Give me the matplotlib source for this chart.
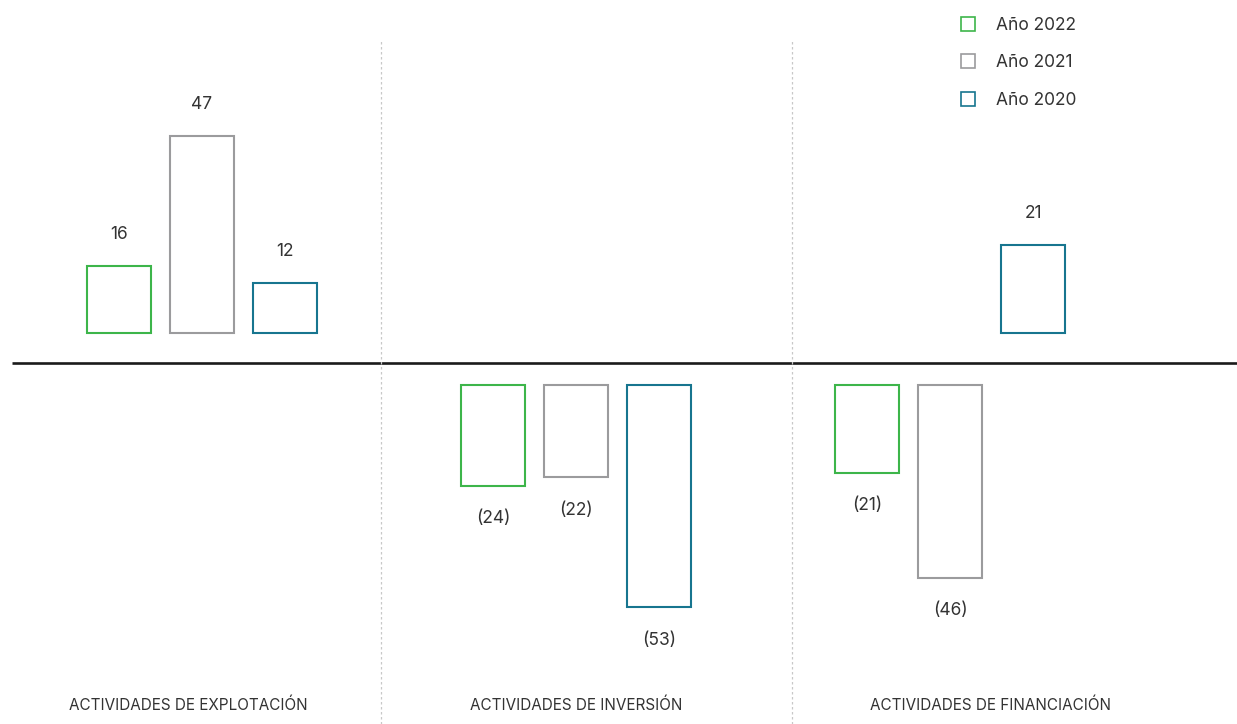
import numpy as np
import matplotlib.pyplot as plt
import matplotlib.patches as mpatches

plt.rcParams['font.family'] = ['Inter', 'DejaVu Sans']

# datos
categorias = ['ACTIVIDADES DE EXPLOTACIÓN', 'ACTIVIDADES DE INVERSIÓN', 'ACTIVIDADES DE FINANCIACIÓN']
series = ['Año 2022', 'Año 2021', 'Año 2020']
anio_2022 = [16, -24, -21]
anio_2021 = [47, -22, -46]
anio_2020 = [12, -53, 21]
colores = ['#3db54a', '#9b9b9d', '#17758f']

valores = [anio_2022, anio_2021, anio_2020]

fig = plt.figure(figsize=(12.37, 7.24), dpi=100)
ax = fig.add_axes([0, 0, 1, 1])
ax.set_xlim(-0.540, 2.767)
ax.set_ylim(-85.95, 86.43)
ax.axis('off')

x = np.arange(len(categorias))
paso = 0.222
ancho = 0.171
gap_pos = 7.1   # separacion de barras positivas respecto al eje
gap_neg = 5.2

for i, (vals, color) in enumerate(zip(valores, colores)):
    xs = x + (i - 1) * paso
    for xi, v in zip(xs, vals):
        if v >= 0:
            ax.bar(xi, v, width=ancho, bottom=gap_pos, facecolor='white',
                   edgecolor=color, linewidth=1.5)
            ax.text(xi, gap_pos + v + 7.5, f'{v}', ha='center', va='center',
                    fontsize=12.5, color='#333333')
        else:
            ax.bar(xi, v, width=ancho, bottom=-gap_neg, facecolor='white',
                   edgecolor=color, linewidth=1.5)
            ax.text(xi, -gap_neg + v - 7.8, f'({-v})', ha='center', va='center',
                    fontsize=12.5, color='#333333')

# eje cero
ax.plot([-0.508, 2.767], [0, 0], color='#1a1a1a', linewidth=1.9, solid_capstyle='butt')

# separadores
for xs in [0.479, 1.578]:
    ax.plot([xs, xs], [-86, 76.9], color='#c8c8c8', linewidth=0.9,
            linestyle=(0, (2, 2)))

# etiquetas de categorias
for xc, cat in zip([-0.037, 1.0, 2.107], categorias):
    ax.text(xc, -81.6, cat, ha='center', va='center', fontsize=11, color='#333333')

# leyenda
handles = [mpatches.Patch(facecolor='white', edgecolor=c, linewidth=1.2, label=s)
           for s, c in zip(series, colores)]
fig.legend(handles=handles, loc='upper left', bbox_to_anchor=(945 / 1237, 1 - 1 / 724),
           frameon=False, fontsize=12.5, handlelength=0.85, handleheight=0.85,
           handletextpad=1.2, labelspacing=1.18, labelcolor='#333333')

fig.savefig('out.png', dpi=100)
